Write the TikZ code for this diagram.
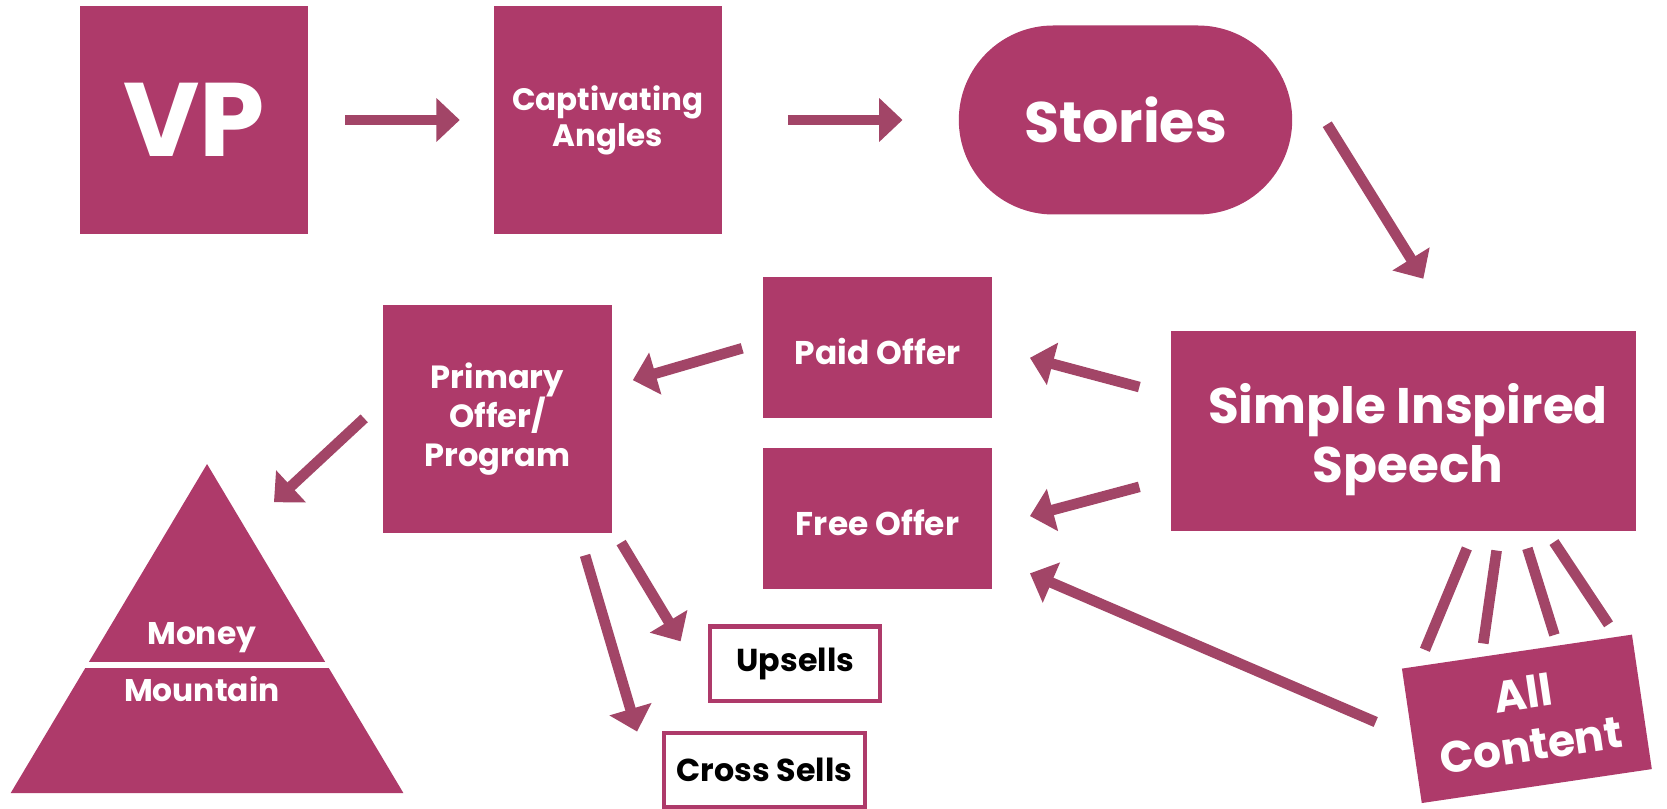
\documentclass[tikz,border=0pt]{standalone}
\usepackage{fontspec}
\setmainfont{Poppins}
\usetikzlibrary{arrows.meta,calc}
\definecolor{plum}{HTML}{AE3A6A}
\definecolor{plumline}{HTML}{A24567}
\newcommand{\fsz}[2]{\bfseries\fontsize{#1}{#2}\selectfont}
\tikzset{
    block/.style={
        rectangle,
        fill=plum,
        text=white,
        align=center,
        inner sep=0mm,
        outer sep=0mm
    },
    outline/.style={
        rectangle,
        draw=plum,
        line width=0.4mm,
        fill=white,
        text=black,
        inner sep=0mm
    },
    flow/.style={
        draw=plumline,
        line width=1mm,
        -{Triangle[length=2.2mm,width=4mm]}
    },
    ray/.style={
        draw=plumline,
        line width=1mm
    }
}

\begin{document}
\begin{tikzpicture}[x=0.1mm,y=-0.1mm]
    \useasboundingbox (0,0) rectangle (1570,761);
    % top row
    \node[block,minimum width=21.5mm,minimum height=21.4mm,font=\fsz{28}{30}] (vp) at (182.5,113) {VP};
    \node[block,minimum width=21.5mm,minimum height=21.4mm,font=\fsz{8.3}{9.7}] (angles) at (572.5,113) {Captivating\\Angles};
    \node[block,minimum width=31.4mm,minimum height=17.8mm,rounded corners=8.9mm,font=\fsz{15.3}{17}] (stories) at (1060,113) {Stories};
    % middle
    \node[block,minimum width=43.8mm,minimum height=18.9mm,font=\fsz{13.4}{16}] (speech) at (1322,406) {\rule{0pt}{5.4mm}\hspace*{0.8mm}Simple Inspired\\\hspace*{0.8mm}Speech};
    \node[block,minimum width=21.5mm,minimum height=13.3mm,font=\fsz{8.8}{10}] (paid) at (826.5,327.5) {\rule{0pt}{3.2mm}Paid Offer};
    \node[block,minimum width=21.5mm,minimum height=13.3mm,font=\fsz{8.8}{10}] (free) at (826.5,488.5) {\rule{0pt}{3.2mm}Free Offer};
    \node[block,minimum width=21.5mm,minimum height=21.5mm,font=\fsz{8.6}{10.5}] (primary) at (468.5,394.5) {Primary\\Offer/\\Program};
    \node[block,minimum width=21.9mm,minimum height=12.8mm,rotate=8.4,font=\fsz{11.8}{14}] (content) at (1438,677) {All\\Content};
    % bottom
    \node[outline,minimum width=16mm,minimum height=7mm,font=\fsz{8.5}{9}] (upsells) at (749,625) {Upsells};
    \node[outline,minimum width=19mm,minimum height=7mm,font=\fsz{8.5}{9}] (cross) at (720,725) {Cross Sells};
    % money mountain
    \fill[plum] (195,437) coordinate (peak) -- (380,747) -- (10,747) -- cycle;
    \draw[white,line width=0.6mm] (0,626) -- (400,626);
    \node[text=white,font=\fsz{8.4}{9}] (money) at (190,601) {Money};
    \node[text=white,font=\fsz{8.4}{9}] (mountain) at (190,649) {Mountain};
    % arrows
    \draw[flow,shorten <=3.5mm,shorten >=3.2mm] (vp) -- (angles);
    \draw[flow,shorten <=6.2mm,shorten >=5.3mm] (angles) -- (stories);
    \draw[flow] ($(stories.east)+(33,4)$) -- ($(speech.north)+(18.5,-49)$);
    \draw[flow] ($(speech.west)+(-30,-41.5)$) -- ($(paid.east)+(36,9.5)$);
    \draw[flow] ($(speech.west)+(-30,52.5)$) -- ($(free.east)+(36,-2.5)$);
    \draw[flow] ($(content.west)+(-34,-13)$) -- ($(free.south east)+(36,-15)$);
    \draw[flow] ($(paid.west)+(-20,0.5)$) -- ($(primary.east)+(20,-36.5)$);
    \draw[flow] ($(primary.west)+(-18,-0.5)$) -- ($(peak)+(63,36)$);
    \draw[flow] ($(primary.south east)+(9,9)$) -- ($(upsells.west)+(-26,-21)$);
    \draw[flow] ($(primary.south)+(82.5,21)$) -- ($(cross.west)+(-23,-36)$);
    % rays to content
    \foreach \sx/\sy/\ex/\ey in {59.5/16/-86.7/-1.7, 87.5/18/-31.7/-7.7, 116.5/16/35.3/-15.7, 141.5/10/86.3/-25.7}
        \draw[ray] ($(speech.south)+(\sx,\sy)$) -- ($(content.north)+(\ex,\ey)$);
\end{tikzpicture}
\end{document}
